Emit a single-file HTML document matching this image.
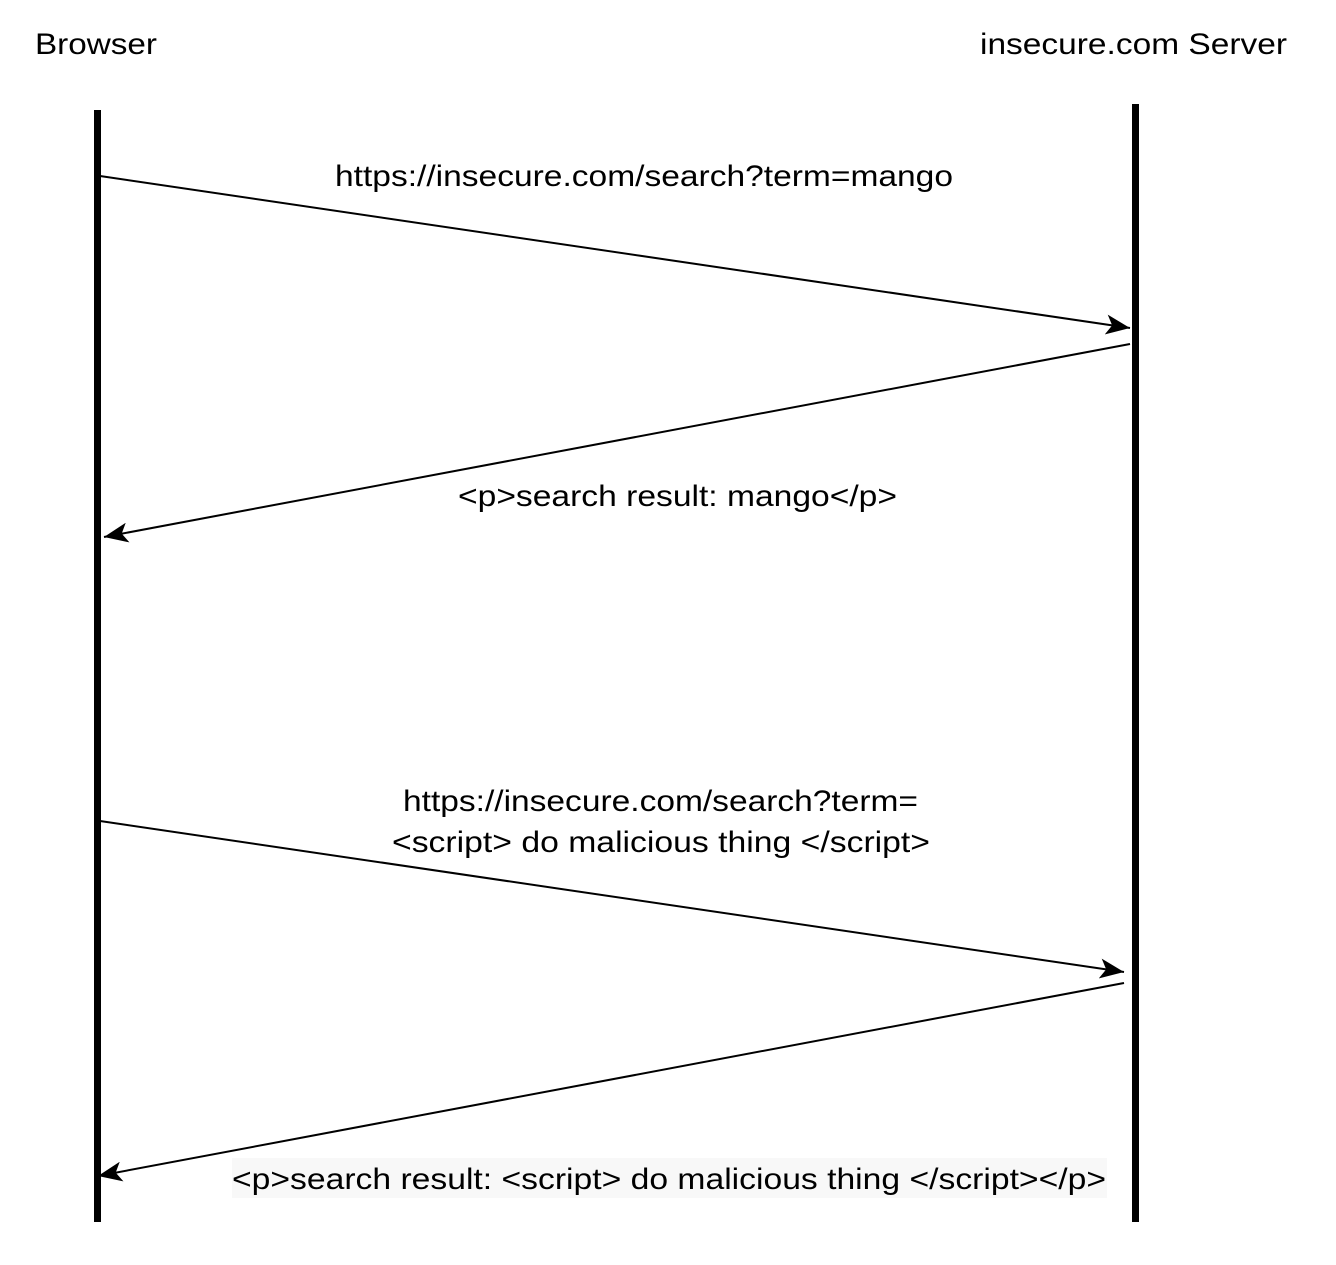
<!DOCTYPE html>
<html><head><style>
body{margin:0;width:1336px;height:1260px;background:#fff;overflow:hidden}
text{font-family:"Liberation Sans",Arial,sans-serif;font-size:30px;fill:#000}
</style></head><body>
<svg width="1336" height="1260" xmlns="http://www.w3.org/2000/svg">
<defs>
<marker id="a" markerWidth="26" markerHeight="20" refX="24" refY="10" orient="auto" markerUnits="userSpaceOnUse">
<path d="M0,0 L24,10 L0,20 L6,10 Z" fill="#000"/>
</marker>
</defs>
<rect x="94" y="110" width="7" height="1112" fill="#000"/>
<rect x="1132" y="104" width="7" height="1118" fill="#000"/>
<text x="35" y="54" textLength="122" lengthAdjust="spacingAndGlyphs">Browser</text>
<text x="980" y="54" textLength="307" lengthAdjust="spacingAndGlyphs">insecure.com Server</text>
<g stroke="#000" stroke-width="2" fill="none">
<line x1="100" y1="176" x2="1130" y2="328" marker-end="url(#a)"/>
<line x1="1130" y1="344" x2="104" y2="537" marker-end="url(#a)"/>
<line x1="100" y1="821" x2="1124" y2="972" marker-end="url(#a)"/>
<line x1="1124" y1="983" x2="98" y2="1176" marker-end="url(#a)"/>
</g>
<text x="335" y="186" textLength="618" lengthAdjust="spacingAndGlyphs">https://insecure.com/search?term=mango</text>
<text x="458" y="506" textLength="439" lengthAdjust="spacingAndGlyphs">&lt;p&gt;search result: mango&lt;/p&gt;</text>
<text x="403" y="811" textLength="515" lengthAdjust="spacingAndGlyphs">https://insecure.com/search?term=</text>
<text x="392" y="852" textLength="538" lengthAdjust="spacingAndGlyphs">&lt;script&gt; do malicious thing &lt;/script&gt;</text>
<rect x="232" y="1158" width="875" height="40" fill="#f8f8f8"/>
<text x="232" y="1189" textLength="874" lengthAdjust="spacingAndGlyphs">&lt;p&gt;search result: &lt;script&gt; do malicious thing &lt;/script&gt;&lt;/p&gt;</text>
</svg>
</body></html>
